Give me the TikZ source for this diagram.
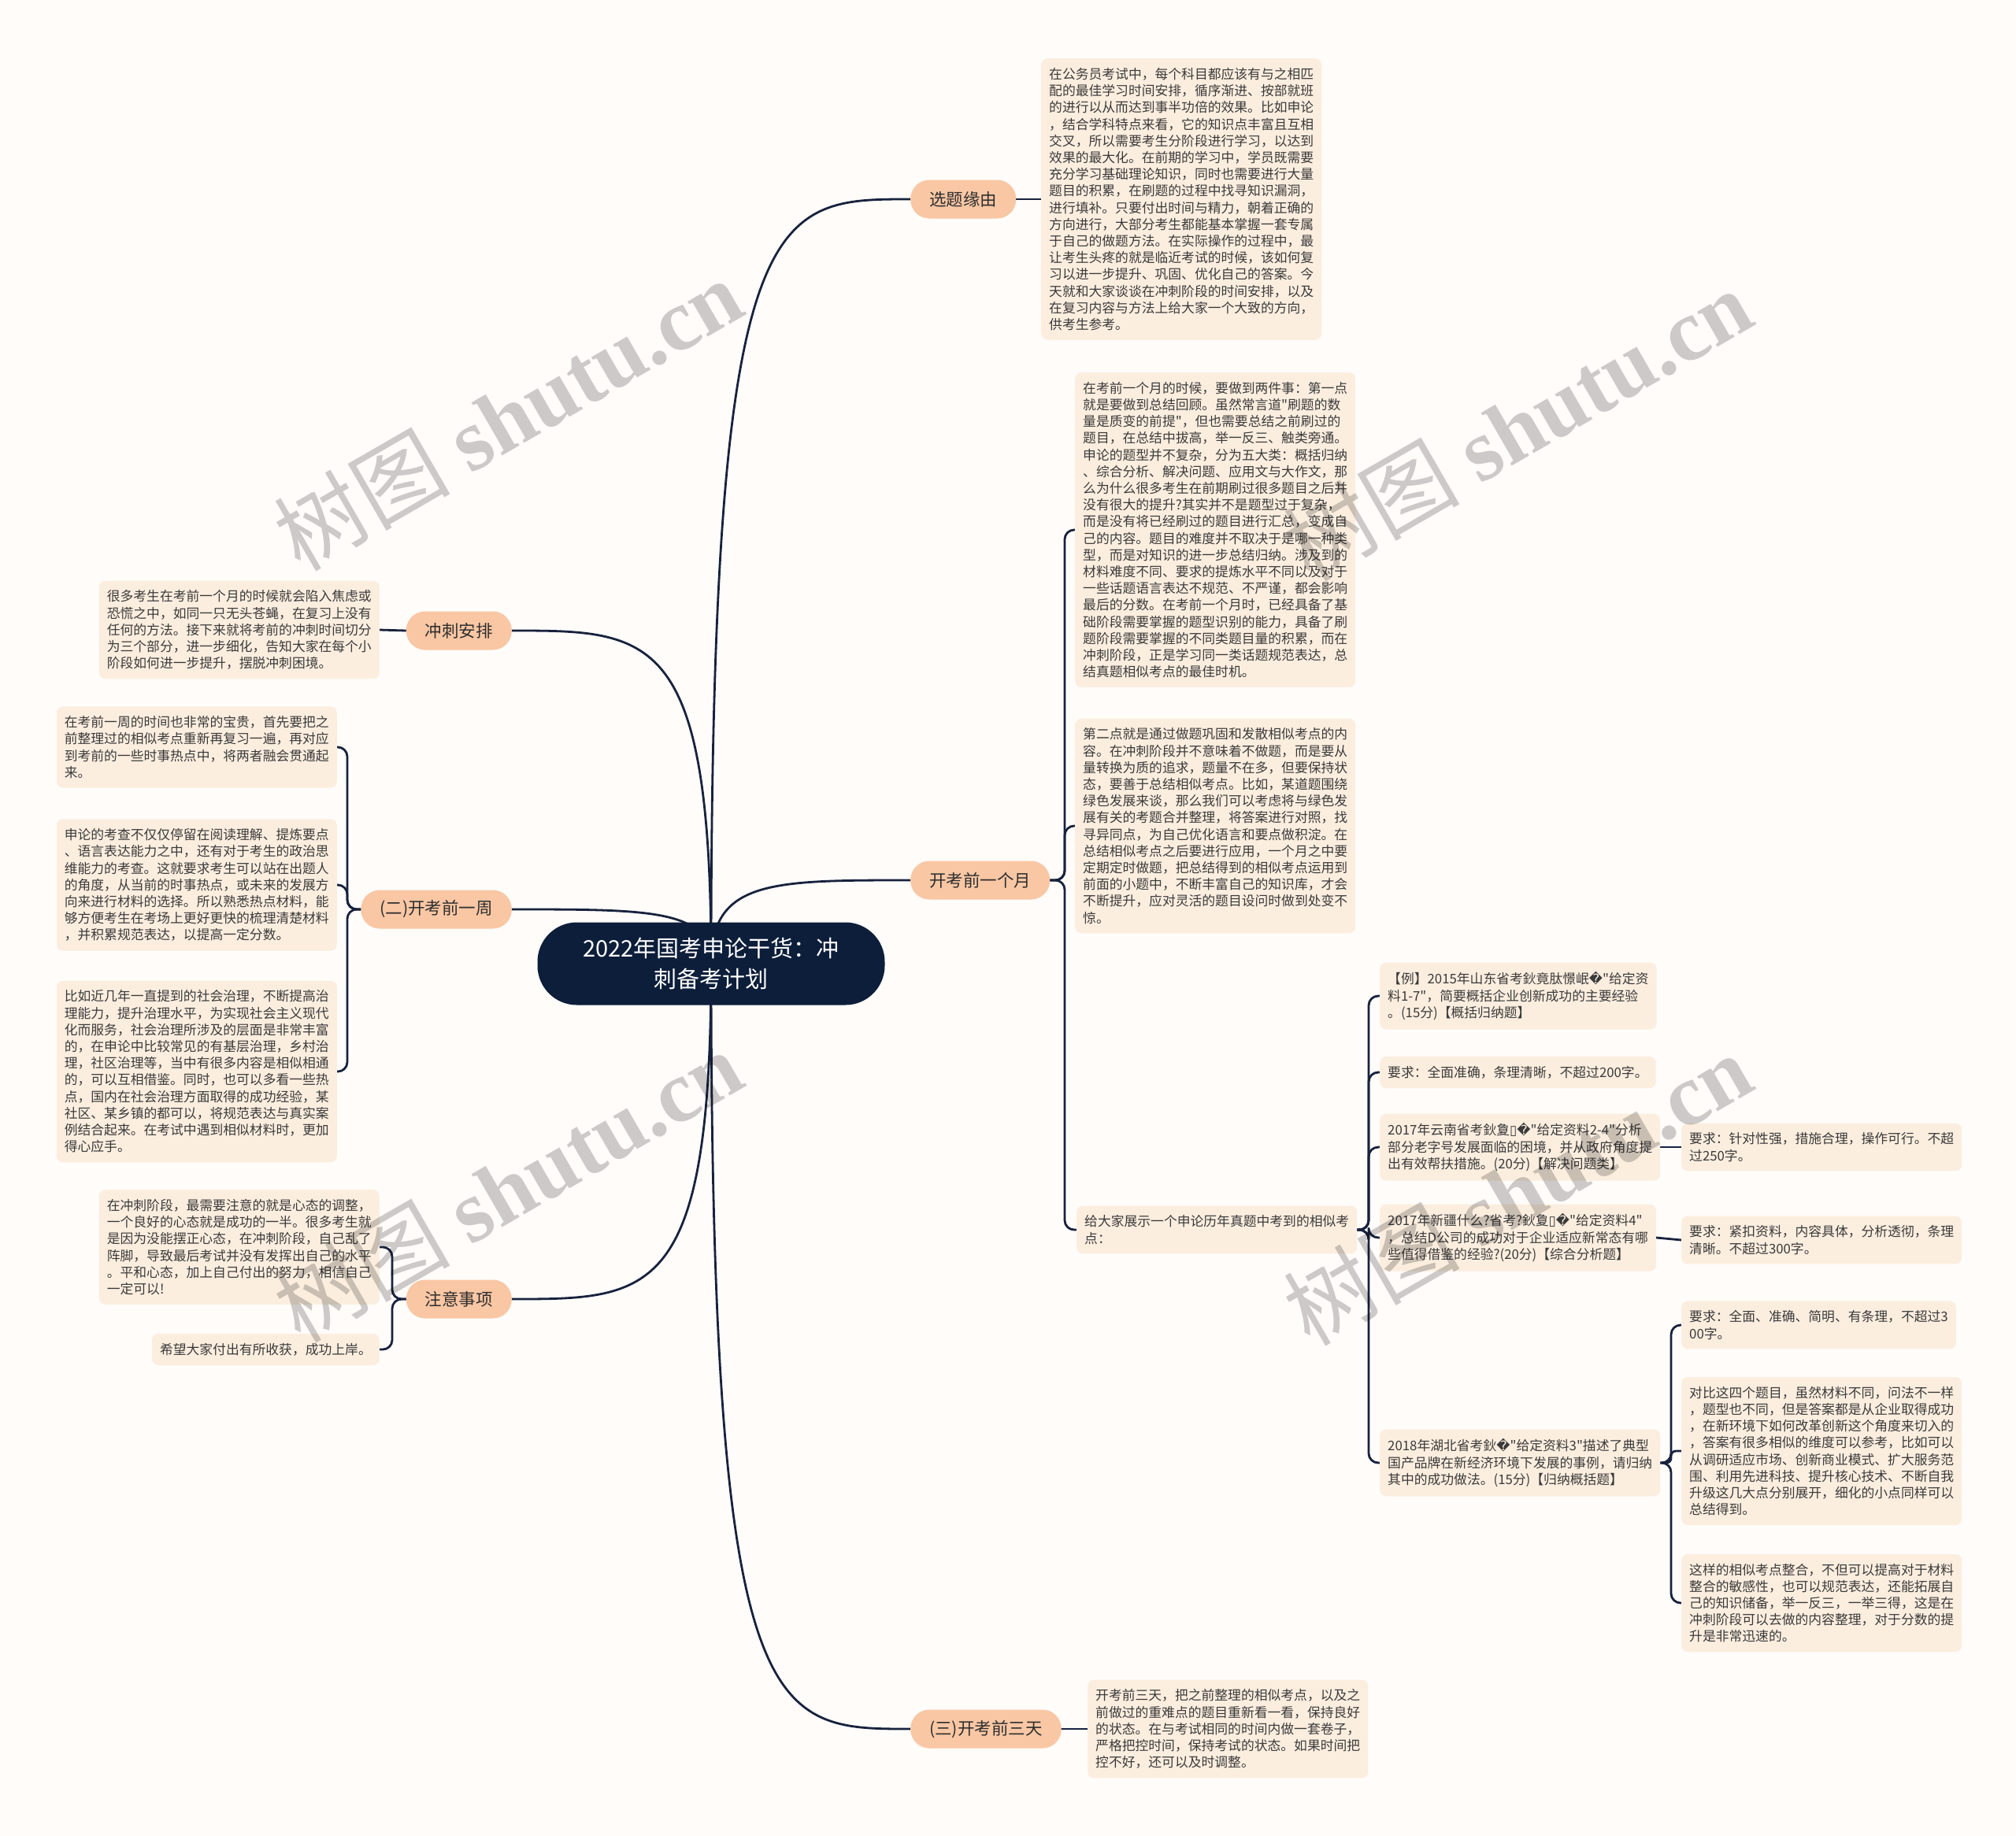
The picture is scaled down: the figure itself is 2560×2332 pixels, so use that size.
\documentclass[tikz,border=0pt]{standalone}
\usepackage{fontspec}
\setmainfont{Noto Sans CJK SC}[Ligatures=TeXOff]
\newfontfamily\dejavu{DejaVu Sans}
\newfontfamily\wmserif{Liberation Serif}
\usetikzlibrary{calc}
\pgfdeclarelayer{back}
\pgfdeclarelayer{lines}
\pgfsetlayers{back,lines,main}
\definecolor{bgc}{HTML}{FFFCFA}
\definecolor{leaff}{HTML}{FCEEDF}
\definecolor{leaft}{HTML}{3A3A3A}
\definecolor{brf}{HTML}{F9C7A4}
\definecolor{brt}{HTML}{2E2E2E}
\definecolor{rootf}{HTML}{0D1E3A}
\definecolor{linec}{HTML}{17223D}
\newcommand{\myrep}{{\dejavu �}}
\newcommand{\mytofu}{{\dejavu ▯}}
\tikzset{
  conn/.style={draw=linec, line width=2.8pt, line cap=round, line join=round},
  leaf/.style={fill=leaff, rounded corners=8pt, inner xsep=10pt, inner ysep=12pt, align=left, text=leaft, font=\fontsize{16.8pt}{21.2pt}\selectfont},
  branch/.style={fill=brf, rounded corners=24pt, minimum height=49pt, inner xsep=24pt, inner ysep=0pt, text=brt, font=\fontsize{21.5pt}{26pt}\selectfont},
  rootn/.style={fill=rootf, rounded corners=50pt, minimum width=441pt, minimum height=105pt, align=center, text=white, font=\fontsize{29pt}{39pt}\selectfont},
  wm/.style={text=black, opacity=0.2, rotate=30, font=\fontsize{112pt}{116pt}\selectfont},
}
\begin{document}
\begin{tikzpicture}[x=1pt, y=-1pt]
\begin{pgfonlayer}{back}
\fill[bgc] (0,0) rectangle (2560,2332);
\end{pgfonlayer}
\useasboundingbox (0,0) rectangle (2560,2332);

% root
\node[rootn] (root) at (903,1224) {2022年国考申论干货：冲\\刺备考计划};

% branches
\node[branch, anchor=west] (b1) at (1156,253) {选题缘由};
\node[branch, anchor=west] (b2) at (1156,1118) {开考前一个月};
\node[branch, anchor=west] (b3) at (1156,2196) {(三)开考前三天};
\node[branch, anchor=east] (b4) at (650,801) {冲刺安排};
\node[branch, anchor=east] (b5) at (650,1155) {(二)开考前一周};
\node[branch, anchor=east] (b6) at (650,1650) {注意事项};

% right leaves
\node[leaf, anchor=west] (s1) at (1322,253) {在公务员考试中，每个科目都应该有与之相匹\\配的最佳学习时间安排，循序渐进、按部就班\\的进行以从而达到事半功倍的效果。比如申论\\，结合学科特点来看，它的知识点丰富且互相\\交叉，所以需要考生分阶段进行学习，以达到\\效果的最大化。在前期的学习中，学员既需要\\充分学习基础理论知识，同时也需要进行大量\\题目的积累，在刷题的过程中找寻知识漏洞，\\进行填补。只要付出时间与精力，朝着正确的\\方向进行，大部分考生都能基本掌握一套专属\\于自己的做题方法。在实际操作的过程中，最\\让考生头疼的就是临近考试的时候，该如何复\\习以进一步提升、巩固、优化自己的答案。今\\天就和大家谈谈在冲刺阶段的时间安排，以及\\在复习内容与方法上给大家一个大致的方向，\\供考生参考。};

\node[leaf, anchor=west] (ka) at (1365,673) {在考前一个月的时候，要做到两件事：第一点\\就是要做到总结回顾。虽然常言道"刷题的数\\量是质变的前提"，但也需要总结之前刷过的\\题目，在总结中拔高，举一反三、触类旁通。\\申论的题型并不复杂，分为五大类：概括归纳\\、综合分析、解决问题、应用文与大作文，那\\么为什么很多考生在前期刷过很多题目之后并\\没有很大的提升?其实并不是题型过于复杂，\\而是没有将已经刷过的题目进行汇总，变成自\\己的内容。题目的难度并不取决于是哪一种类\\型，而是对知识的进一步总结归纳。涉及到的\\材料难度不同、要求的提炼水平不同以及对于\\一些话题语言表达不规范、不严谨，都会影响\\最后的分数。在考前一个月时，已经具备了基\\础阶段需要掌握的题型识别的能力，具备了刷\\题阶段需要掌握的不同类题目量的积累，而在\\冲刺阶段，正是学习同一类话题规范表达，总\\结真题相似考点的最佳时机。};

\node[leaf, anchor=west] (kb) at (1365,1049) {第二点就是通过做题巩固和发散相似考点的内\\容。在冲刺阶段并不意味着不做题，而是要从\\量转换为质的追求，题量不在多，但要保持状\\态，要善于总结相似考点。比如，某道题围绕\\绿色发展来谈，那么我们可以考虑将与绿色发\\展有关的考题合并整理，将答案进行对照，找\\寻异同点，为自己优化语言和要点做积淀。在\\总结相似考点之后要进行应用，一个月之中要\\定期定时做题，把总结得到的相似考点运用到\\前面的小题中，不断丰富自己的知识库，才会\\不断提升，应对灵活的题目设问时做到处变不\\惊。};

\node[leaf, anchor=west] (kc) at (1367,1562) {给大家展示一个申论历年真题中考到的相似考\\点：};

\node[leaf, anchor=west] (c1) at (1752,1265) {【例】2015年山东省考鈥竟肽憬岷\myrep"给定资\\料1-7"，简要概括企业创新成功的主要经验\\。(15分)【概括归纳题】};
\node[leaf, anchor=west] (c2) at (1752,1362) {要求：全面准确，条理清晰，不超过200字。};
\node[leaf, anchor=west] (c3) at (1752,1457) {2017年云南省考鈥夐\mytofu\myrep"给定资料2-4"分析\\部分老字号发展面临的困境，并从政府角度提\\出有效帮扶措施。(20分)【解决问题类】};
\node[leaf, anchor=west] (c4) at (1752,1572) {2017年新疆什么?省考?鈥夐\mytofu\myrep"给定资料4"\\，总结D公司的成功对于企业适应新常态有哪\\些值得借鉴的经验?(20分)【综合分析题】};
\node[leaf, anchor=west] (c5) at (1752,1858) {2018年湖北省考鈥\myrep"给定资料3"描述了典型\\国产品牌在新经济环境下发展的事例，请归纳\\其中的成功做法。(15分)【归纳概括题】};

\node[leaf, anchor=west] (d1) at (2135,1457) {要求：针对性强，措施合理，操作可行。不超\\过250字。};
\node[leaf, anchor=west] (d2) at (2135,1575) {要求：紧扣资料，内容具体，分析透彻，条理\\清晰。不超过300字。};
\node[leaf, anchor=west] (e1) at (2135,1683) {要求：全面、准确、简明、有条理，不超过3\\00字。};
\node[leaf, anchor=west] (e2) at (2135,1843) {对比这四个题目，虽然材料不同，问法不一样\\，题型也不同，但是答案都是从企业取得成功\\，在新环境下如何改革创新这个角度来切入的\\，答案有很多相似的维度可以参考，比如可以\\从调研适应市场、创新商业模式、扩大服务范\\围、利用先进科技、提升核心技术、不断自我\\升级这几大点分别展开，细化的小点同样可以\\总结得到。};
\node[leaf, anchor=west] (e3) at (2135,2036) {这样的相似考点整合，不但可以提高对于材料\\整合的敏感性，也可以规范表达，还能拓展自\\己的知识储备，举一反三，一举三得，这是在\\冲刺阶段可以去做的内容整理，对于分数的提\\升是非常迅速的。};

\node[leaf, anchor=west] (f1) at (1381,2196) {开考前三天，把之前整理的相似考点，以及之\\前做过的重难点的题目重新看一看，保持良好\\的状态。在与考试相同的时间内做一套卷子，\\严格把控时间，保持考试的状态。如果时间把\\控不好，还可以及时调整。};

% left leaves
\node[leaf, anchor=east] (g1) at (482,800) {很多考生在考前一个月的时候就会陷入焦虑或\\恐慌之中，如同一只无头苍蝇，在复习上没有\\任何的方法。接下来就将考前的冲刺时间切分\\为三个部分，进一步细化，告知大家在每个小\\阶段如何进一步提升，摆脱冲刺困境。};

\node[leaf, anchor=east] (h1) at (428,949) {在考前一周的时间也非常的宝贵，首先要把之\\前整理过的相似考点重新再复习一遍，再对应\\到考前的一些时事热点中，将两者融会贯通起\\来。};
\node[leaf, anchor=east] (h2) at (428,1124) {申论的考查不仅仅停留在阅读理解、提炼要点\\、语言表达能力之中，还有对于考生的政治思\\维能力的考查。这就要求考生可以站在出题人\\的角度，从当前的时事热点，或未来的发展方\\向来进行材料的选择。所以熟悉热点材料，能\\够方便考生在考场上更好更快的梳理清楚材料\\，并积累规范表达，以提高一定分数。};
\node[leaf, anchor=east] (h3) at (428,1361) {比如近几年一直提到的社会治理，不断提高治\\理能力，提升治理水平，为实现社会主义现代\\化而服务，社会治理所涉及的层面是非常丰富\\的，在申论中比较常见的有基层治理，乡村治\\理，社区治理等，当中有很多内容是相似相通\\的，可以互相借鉴。同时，也可以多看一些热\\点，国内在社会治理方面取得的成功经验，某\\社区、某乡镇的都可以，将规范表达与真实案\\例结合起来。在考试中遇到相似材料时，更加\\得心应手。};

\node[leaf, anchor=east] (i1) at (482,1584) {在冲刺阶段，最需要注意的就是心态的调整，\\一个良好的心态就是成功的一半。很多考生就\\是因为没能摆正心态，在冲刺阶段，自己乱了\\阵脚，导致最后考试并没有发挥出自己的水平\\。平和心态，加上自己付出的努力，相信自己\\一定可以!};
\node[leaf, anchor=east] (i2) at (482,1714) {希望大家付出有所收获，成功上岸。};

% connectors
\begin{pgfonlayer}{lines}
\foreach \b/\f in {b1/west, b2/west, b3/west, b4/east, b5/east, b6/east} {
  \draw[conn] (root.center) .. controls (root.center |- \b.\f) and ($(root.center |- \b.\f)!0.3!(\b.\f)$) .. (\b.\f);
}
\draw[conn] (b1.east) -- (s1.west);
\draw[conn] (b3.east) -- (f1.west);
\draw[conn] (b4.west) -- (g1.east);
\draw[conn] (c3.east) -- (d1.west);
\draw[conn] (c4.east) -- (d2.west);
\foreach \c in {ka, kb, kc} {
  \draw[conn, rounded corners=12pt] (b2.east) -- (1352,1118) |- (\c.west);
}
\foreach \c in {c1, c2, c3, c4, c5} {
  \draw[conn, rounded corners=12pt] (kc.east) -- (1738,1562) |- (\c.west);
}
\foreach \c in {e1, e3} {
  \draw[conn, rounded corners=12pt] (c5.east) -- (2122,1858) |- (\c.west);
}
\draw[conn, rounded corners=6pt] (c5.east) -- (2122,1858) |- (e2.west);
\foreach \c in {h1, h2, h3} {
  \draw[conn, rounded corners=12pt] (b5.west) -- (441,1155) |- (\c.east);
}
\foreach \c in {i1, i2} {
  \draw[conn, rounded corners=12pt] (b6.west) -- (498,1650) |- (\c.east);
}
\end{pgfonlayer}

% watermarks
\node[wm] (w1) at (645,526) {树图 {\wmserif\bfseries shutu.cn}};
\node[wm] (w2) at (1927,539) {树图 {\wmserif\bfseries shutu.cn}};
\node[wm] (w3) at (645,1506) {树图 {\wmserif\bfseries shutu.cn}};
\node[wm] (w4) at (1927,1510) {树图 {\wmserif\bfseries shutu.cn}};
\end{tikzpicture}
\end{document}
